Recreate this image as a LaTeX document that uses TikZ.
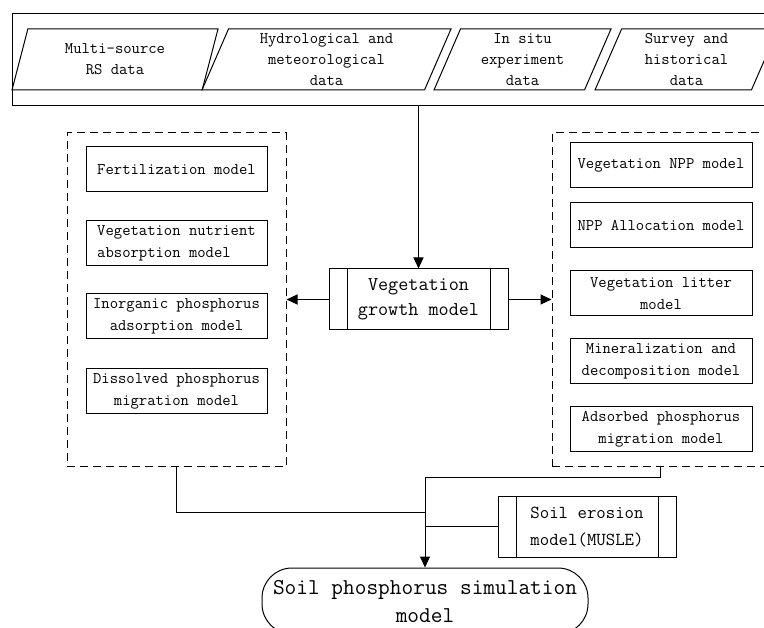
\documentclass[tikz,border=0pt]{standalone}
\usepackage{fontspec}
\setmainfont{Latin Modern Mono}
\usetikzlibrary{arrows.meta,shapes.geometric,calc}
\newcommand\fsz[2]{\fontsize{#1}{#2}\selectfont}
\tikzset{
  >={Triangle[length=11pt,width=10pt]},
  % data
  inframe/.style={draw,line width=1pt,inner sep=0pt},
  datain/.style={trapezium,draw,line width=1pt,trapezium left angle=63,
    trapezium right angle=117,trapezium stretches body,minimum height=61pt,
    inner sep=0pt,align=center,font=\fsz{16.2}{21}},
  % models
  grp/.style={draw,line width=1pt,dash pattern=on 8pt off 5pt,inner sep=0pt},
  mbox/.style={draw,line width=1pt,minimum height=45pt,inner sep=0pt,
    align=center,font=\fsz{16.2}{22}},
  subproc/.style={draw,line width=1pt,inner sep=0pt,align=center,
    path picture={\draw[line width=1pt]
      ([xshift=18pt]path picture bounding box.north west) --
      ([xshift=18pt]path picture bounding box.south west)
      ([xshift=-18pt]path picture bounding box.north east) --
      ([xshift=-18pt]path picture bounding box.south east);}},
  term/.style={draw,line width=1pt,rounded corners=30pt,inner sep=0pt,
    minimum width=326pt,minimum height=66pt,align=center,font=\fsz{22.7}{28}},
  conn/.style={line width=1pt},
}

\begin{document}
\begin{tikzpicture}[x=1pt,y=-1pt]
  \clip (0,0) rectangle (764,628);
  % input data
  \node[inframe,minimum width=778pt,minimum height=92pt] (inputs) at (401,60) {};
  \node[datain,minimum width=206pt] (rs) at (115,59.5) {Multi-source\\RS data};
  \node[datain,minimum width=249pt] (hydro) at (326.5,59.5) {Hydrological and\\meteorological\\data};
  \node[datain,minimum width=177pt] (insitu) at (522.5,59.5) {In situ\\experiment\\data};
  \node[datain,minimum width=183pt] (survey) at (686.5,59.5) {Survey and\\historical\\data};
  % model groups
  \node[grp,minimum width=219pt,minimum height=334pt] (lgroup) at (176.5,300) {};
  \node[grp,minimum width=216pt,minimum height=334pt] (rgroup) at (660,300) {};
  \foreach \y/\a/\t [count=\i] in {169.5/center/{Fertilization model},
      243.5/left/{Vegetation nutrient\\absorption model},
      316.5/center/{Inorganic phosphorus\\adsorption model},
      391/center/{Dissolved phosphorus\\migration model}} {
    \node[mbox,minimum width=181pt,align=\a] (l\i) at (176.5,\y) {\t};
  }
  \foreach \y/\t [count=\i] in {165.5/{Vegetation NPP model},
      225.5/{NPP Allocation model},293.5/{Vegetation litter\\model},
      361.5/{Mineralization and\\decomposition model},
      429.5/{Adsorbed phosphorus\\migration model}} {
    \node[mbox,minimum width=182pt] (r\i) at (661,\y) {\t};
  }
  \node[subproc,minimum width=179pt,minimum height=61pt,font=\fsz{19.6}{25}] (veg) at (418.5,299.5)
    {Vegetation\\growth model};
  \node[subproc,minimum width=178pt,minimum height=60pt,font=\fsz{18.3}{27}] (erosion) at (587,527)
    {Soil erosion\\model(MUSLE)};
  \node[term] (soilp) at (425,601) {Soil phosphorus simulation\\model};
  % connectors
  \coordinate (j1) at (425,513);
  \coordinate (j2) at (425,478);
  \draw[conn,->] (veg.north |- inputs.south) -- (veg.north);
  \draw[conn,->] (veg.west) -- (veg.west -| lgroup.east);
  \draw[conn,->] (veg.east) -- (veg.east -| rgroup.west);
  \draw[conn] (lgroup.south) |- (j1);
  \draw[conn] (rgroup.south) |- (j2);
  \draw[conn,->] (j2) -- (soilp.north);
  \draw[conn] (erosion.west) -- (erosion.west -| soilp.north);
\end{tikzpicture}
\end{document}
